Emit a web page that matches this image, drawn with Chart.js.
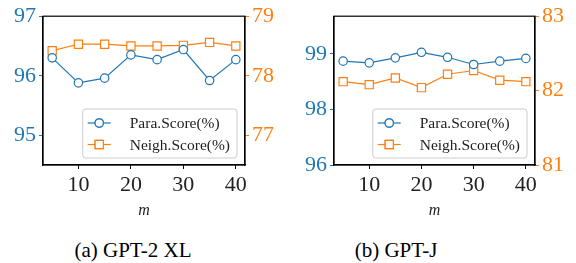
<!DOCTYPE html>
<html>
<head>
<meta charset="utf-8">
<script src="https://cdn.jsdelivr.net/npm/chart.js@4.4.1/dist/chart.umd.min.js"></script>
<style>
  body { margin: 0; background: #fff; width: 576px; height: 263px; position: relative; overflow: hidden; }
  canvas { position: absolute; top: 0; }
  #chartA { left: 0; }
  #chartB { left: 286px; }
  .caption { position: absolute; top: 240px; width: 290px; text-align: center;
             font-family: "Times New Roman", "Liberation Serif", "DejaVu Serif", serif; font-size: 21px; line-height: 21px; color: #000; }
</style>
</head>
<body>
<canvas id="chartA" width="290" height="222"></canvas>
<canvas id="chartB" width="290" height="222"></canvas>
<div class="caption" style="left:-12px">(a) GPT-2 XL</div>
<div class="caption" style="left:251px">(b) GPT-J</div>
<script>
// m values on the x axis
const mValues = [5, 10, 15, 20, 25, 30, 35, 40];
const xTicks = [10, 20, 30, 40];

// (a) GPT-2 XL
const gpt2Para = [96.30, 95.88, 95.96, 96.35, 96.27, 96.44, 95.92, 96.27];
const gpt2Neigh = [78.42, 78.53, 78.53, 78.50, 78.50, 78.51, 78.56, 78.50];
const gpt2LeftTicks = [95, 96, 97];
const gpt2LeftLabels = ['95', '96', '97'];
const gpt2RightTicks = [77, 78, 79];

// (b) GPT-J
const gptjPara = [98.87, 98.84, 98.93, 99.03, 98.94, 98.81, 98.87, 98.92];
const gptjNeigh = [82.12, 82.08, 82.17, 82.04, 82.22, 82.27, 82.14, 82.12];
const gptjLeftTicks = [97, 98, 99];
const gptjLeftLabels = ['96', '98', '99'];
const gptjRightTicks = [81, 82, 83];

const BLUE = '#1f77b4';
const ORANGE = '#ff7f0e';
const SERIF = '"Times New Roman", "Liberation Serif", "DejaVu Serif", serif';

const toPoints = vals => vals.map((v, i) => ({ x: mValues[i], y: v }));

// frame on all four sides + legend box inside the plot
const framePlugin = {
    id: 'frameAndLegend',
    afterDraw(chart) {
        const { ctx, chartArea: a } = chart;
        ctx.save();
        ctx.strokeStyle = '#000';
        ctx.lineWidth = 1.2;
        ctx.strokeRect(a.left, a.top, a.right - a.left, a.bottom - a.top);

        ctx.font = '15.5px ' + SERIF;
        const names = chart.data.datasets.map(d => d.label);
        const textW = Math.max(...names.map(n => ctx.measureText(n).width));
        const w = 47 + textW + 7;
        const h = 49;
        const bx = a.right - 8 - w;
        const by = a.bottom - 7 - h;
        ctx.beginPath();
        ctx.roundRect(bx, by, w, h, 3);
        ctx.fillStyle = 'rgba(255,255,255,0.85)';
        ctx.fill();
        ctx.strokeStyle = '#cccccc';
        ctx.lineWidth = 1;
        ctx.stroke();

        chart.data.datasets.forEach((d, i) => {
            const cy = by + 14 + i * 21.5;
            ctx.strokeStyle = d.borderColor;
            ctx.lineWidth = d.borderWidth;
            ctx.beginPath();
            ctx.moveTo(bx + 5, cy);
            ctx.lineTo(bx + 28, cy);
            ctx.stroke();
            Chart.helpers.drawPoint(ctx, {
                pointStyle: d.pointStyle, radius: d.pointRadius,
                borderWidth: d.pointBorderWidth, rotation: 0
            }, bx + 16.5, cy);
            ctx.fillStyle = '#fff';
            ctx.fill();
            ctx.stroke();
            ctx.fillStyle = '#222';
            ctx.textBaseline = 'middle';
            ctx.textAlign = 'left';
            ctx.fillText(d.label, bx + 47, cy + 1);
        });
        ctx.restore();
    }
};

function makeChart(id, para, neigh, left, right) {
    new Chart(document.getElementById(id), {
        type: 'line',
        data: {
            datasets: [{
                label: 'Para.Score(%)',
                data: toPoints(para),
                yAxisID: 'yL',
                borderColor: BLUE,
                borderWidth: 1.2,
                pointStyle: 'circle',
                pointRadius: 4.2,
                pointBorderWidth: 1.2,
                pointBackgroundColor: '#fff',
                pointBorderColor: BLUE
            }, {
                label: 'Neigh.Score(%)',
                data: toPoints(neigh),
                yAxisID: 'yR',
                borderColor: ORANGE,
                borderWidth: 1.2,
                pointStyle: 'rect',
                pointRadius: 5.8,
                pointBorderWidth: 1.2,
                pointBackgroundColor: '#fff',
                pointBorderColor: ORANGE
            }]
        },
        options: {
            responsive: false,
            animation: false,
            devicePixelRatio: 1,
            layout: { padding: { top: 13, left: 0, right: 0, bottom: 0 } },
            plugins: { legend: { display: false }, tooltip: { enabled: false } },
            scales: {
                x: {
                    type: 'linear',
                    min: 3.25, max: 41.75,
                    afterFit: s => { s.height = 57; },
                    afterBuildTicks: s => { s.ticks = xTicks.map(v => ({ value: v })); },
                    border: { color: '#000', width: 1.2 },
                    grid: { drawOnChartArea: false, tickLength: 4, color: '#000', tickWidth: 1 },
                    ticks: { color: '#222', padding: 3, font: { family: SERIF, size: 22 } },
                    title: {
                        display: true, text: 'm', color: '#222',
                        font: { family: SERIF, size: 16, style: 'italic' },
                        padding: { top: 0, bottom: 2 }
                    }
                },
                yL: {
                    position: 'left',
                    min: left.min, max: left.max,
                    afterFit: s => { s.width = left.width; },
                    afterBuildTicks: s => { s.ticks = left.ticks.map(v => ({ value: v })); },
                    border: { color: '#000', width: 1.2 },
                    grid: { drawOnChartArea: false, tickLength: 4, color: BLUE, tickWidth: 1 },
                    ticks: {
                        color: BLUE, padding: 3, font: { family: SERIF, size: 22 },
                        callback: (v) => left.labels[left.ticks.indexOf(v)]
                    }
                },
                yR: {
                    position: 'right',
                    min: right.min, max: right.max,
                    afterFit: s => { s.width = right.width; },
                    afterBuildTicks: s => { s.ticks = right.ticks.map(v => ({ value: v })); },
                    border: { color: '#000', width: 1.2 },
                    grid: { drawOnChartArea: false, tickLength: 4, color: ORANGE, tickWidth: 1 },
                    ticks: { color: ORANGE, padding: 3, font: { family: SERIF, size: 22 } }
                }
            }
        },
        plugins: [framePlugin]
    });
}

makeChart('chartA', gpt2Para, gpt2Neigh,
    { min: 94.5, max: 97, ticks: gpt2LeftTicks, labels: gpt2LeftLabels, width: 43 },
    { min: 76.5, max: 79, ticks: gpt2RightTicks, width: 45 });

makeChart('chartB', gptjPara, gptjNeigh,
    { min: 97, max: 99.68, ticks: gptjLeftTicks, labels: gptjLeftLabels, width: 48 },
    { min: 81, max: 83, ticks: gptjRightTicks, width: 41 });
</script>
</body>
</html>
